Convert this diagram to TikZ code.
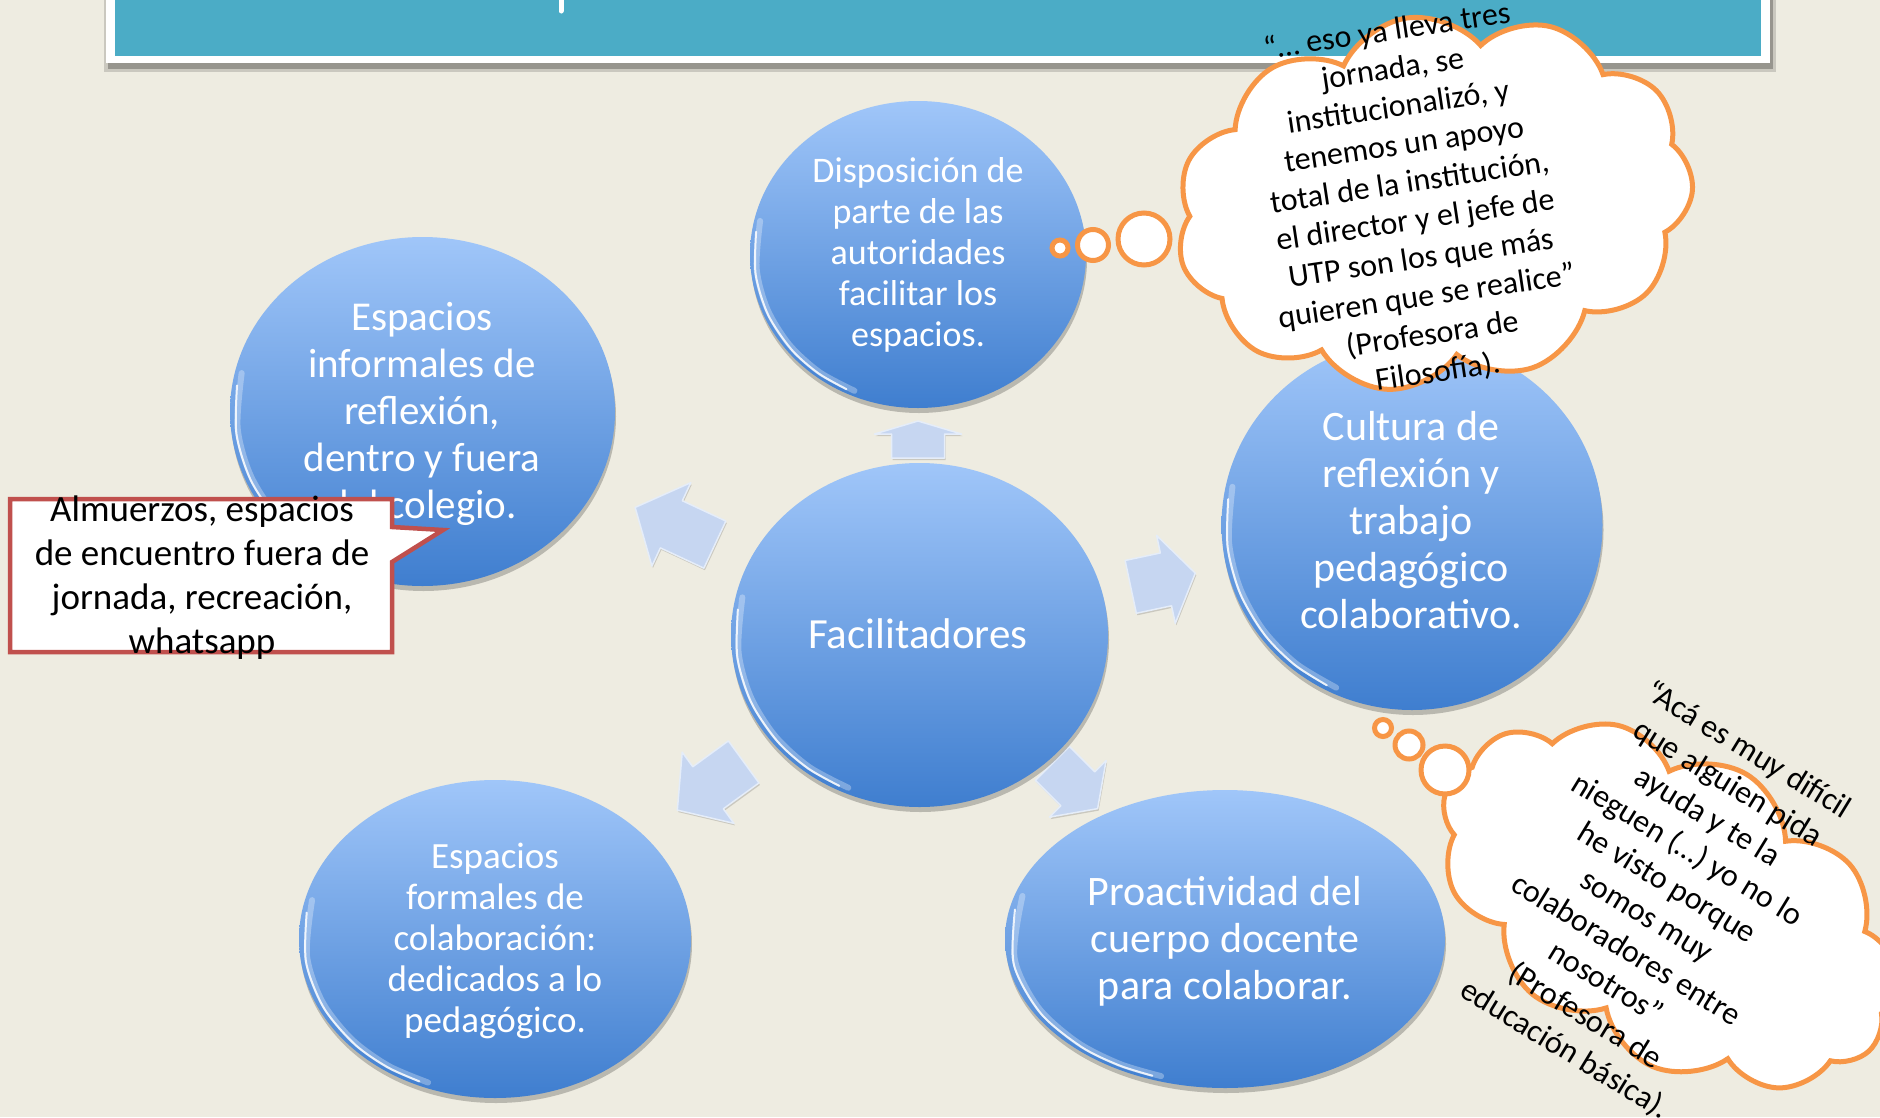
\documentclass[tikz,border=0pt]{standalone}
\usepackage{fontspec}
\setmainfont{Carlito}
\usetikzlibrary{shapes.geometric,shapes.symbols,shadows,calc}
\definecolor{bgbeige}{HTML}{EEECE1}
\definecolor{bannerteal}{HTML}{4BACC6}
\definecolor{ctop}{HTML}{A0C6F9}
\definecolor{cbot}{HTML}{3F7ECF}
\definecolor{arrowblue}{HTML}{C6D6F1}
\definecolor{orng}{HTML}{F79646}
\definecolor{redb}{HTML}{C0504D}
\newcommand\glossrim[1]{%
 \draw[white, line width=6pt, opacity=.3, line cap=round] plot[smooth] coordinates {($(#1.center)!0.965!(#1.168)$) ($(#1.center)!0.965!(#1.185)$) ($(#1.center)!0.965!(#1.200)$) ($(#1.center)!0.965!(#1.215)$) ($(#1.center)!0.965!(#1.230)$) ($(#1.center)!0.965!(#1.245)$)};
 \draw[rimline] plot[smooth] coordinates {($(#1.center)!0.975!(#1.172)$) ($(#1.center)!0.975!(#1.187)$) ($(#1.center)!0.975!(#1.202)$) ($(#1.center)!0.975!(#1.217)$) ($(#1.center)!0.975!(#1.230)$) ($(#1.center)!0.975!(#1.242)$)};
}
\tikzset{pics/barrow/.style n args={4}{code={%
 \path[arrowfill] (-#1/2,-#4) -- ({#1/2-#2},-#4) -- ({#1/2-#2},-#3) -- (#1/2,0) -- ({#1/2-#2},#3) -- ({#1/2-#2},#4) -- (-#1/2,#4) -- cycle;}}}
\begin{document}
\begin{tikzpicture}[x=1pt,y=-1pt,
  bubble/.style={ellipse, top color=ctop, bottom color=cbot, inner sep=0pt, outer sep=0pt,
    drop shadow={shadow xshift=1pt, shadow yshift=-5pt, opacity=.22, fill=black}},
  bubtext/.style={text=white, align=center, inner sep=0pt},
  arrowfill/.style={fill=arrowblue, draw=white!55!arrowblue, line width=1.5pt, line join=round,
    drop shadow={shadow xshift=1pt, shadow yshift=-2pt, opacity=.15, fill=black}},
  thought/.style={draw=orng, line width=5pt, fill=white},
  bubcirc/.style={thought, circle, inner sep=0pt, outer sep=0pt},
  quote/.style={text=black, align=center, inner sep=0pt},
  rimline/.style={white, line width=2pt, opacity=.85, line cap=round},
  callout/.style={draw=redb, line width=4.5pt, fill=white, line join=miter},
  calltext/.style={text=black, align=center, inner sep=0pt, font=\fontsize{37}{44}\selectfont},
]
\useasboundingbox (0,0) rectangle (1880,1117);
\fill[bgbeige] (0,0) rectangle (1880,1117);
% banner
\fill[black, opacity=.25] (108,-10) rectangle (1773,69);
\fill[black, opacity=.15] (104,-10) rectangle (1776,72);
\fill[white] (106,-10) rectangle (1770,63);
\fill[bannerteal] (115,-10) rectangle (1761,56);
\draw[white, line width=5pt, line cap=round] (561,-5) -- (561,11);
% block arrows
\pic[rotate=90] at (918,439.5) {barrow={37}{13}{43.5}{26.5}};
\pic[rotate=155] at (675,526) {barrow={88}{40}{46}{26}};
\pic[rotate=12] at (1163,580) {barrow={66}{30}{45}{27}};
\pic[rotate=216] at (710.5,786) {barrow={82}{38}{44}{26}};
\pic[rotate=-45] at (1075,786) {barrow={64}{28}{40}{24}};
% circles
\node[bubble, minimum width=336pt, minimum height=307pt] (topc) at (918,254.5) {};
\node[bubble, minimum width=385pt, minimum height=349pt] (leftc) at (422.5,411.5) {};
\node[bubble, minimum width=377pt, minimum height=344pt] (ctrc) at (919.5,635) {};
\node[bubble, minimum width=381pt, minimum height=370pt] (rightc) at (1412,525) {};
\node[bubble, minimum width=392pt, minimum height=318pt] (blc) at (495,939) {};
\node[bubble, minimum width=440pt, minimum height=298pt] (brc) at (1225,939) {};
\glossrim{topc}\glossrim{leftc}\glossrim{ctrc}\glossrim{rightc}\glossrim{blc}\glossrim{brc}
\node[bubtext, font=\fontsize{36}{41}\selectfont] (topt) at (918,255) {Disposición de\\parte de las\\autoridades\\facilitar los\\espacios.};
\node[bubtext, font=\fontsize{41}{47}\selectfont] (leftt) at (422,414) {Espacios\\informales de\\reflexión,\\dentro y fuera\\del colegio.};
\node[bubtext, font=\fontsize{43}{50}\selectfont] (ctrt) at (918,634) {Facilitadores};
\node[bubtext, font=\fontsize{42}{47}\selectfont] (rightt) at (1411,520) {Cultura de\\reflexión y\\trabajo\\pedagógico\\colaborativo.};
\node[bubtext, font=\fontsize{37}{41}\selectfont] (blt) at (495,941) {Espacios\\formales de\\colaboración:\\dedicados a lo\\pedagógico.};
\node[bubtext, font=\fontsize{42}{47}\selectfont] (brt) at (1225,941) {Proactividad del\\cuerpo docente\\para colaborar.};
% callout
\draw[callout] (10,499) -- (392,499) -- (392,527) -- (443,530) -- (392,562) -- (392,652) -- (10,652) -- cycle;
\node[calltext] (callt) at (202,578) {Almuerzos, espacios\\de encuentro fuera de\\jornada, recreación,\\whatsapp};
% cloud 1
\node[thought, cloud, cloud puffs=11, cloud puff arc=115, aspect=1.4, minimum width=520pt, minimum height=372pt, rotate=8.5] (cloudA) at (1434,202) {};
\node[bubcirc, minimum size=52pt] (a3) at (1144,239) {};
\node[bubcirc, minimum size=31pt] (a2) at (1093,245) {};
\node[bubcirc, minimum size=16pt] (a1) at (1060,248) {};
\node[quote, font=\fontsize{32}{38.3}\selectfont, rotate=8.5] (qA) at (1412.5,202) {“… eso ya lleva tres\\jornada, se\\institucionalizó, y\\tenemos un apoyo\\total de la institución,\\el director y el jefe de\\UTP son los que más\\quieren que se realice”\\(Profesora de\\Filosofía).};
% cloud 2
\node[thought, cloud, cloud puffs=11, cloud puff arc=115, aspect=1.6, minimum width=500pt, minimum height=305pt, rotate=-31] (cloudB) at (1668,905) {};
\node[bubcirc, minimum size=48pt] (b3) at (1445,770) {};
\node[bubcirc, minimum size=28pt] (b2) at (1409,745) {};
\node[bubcirc, minimum size=17pt] (b1) at (1383,728) {};
\node[quote, font=\fontsize{32}{39}\selectfont, rotate=-31.5] (qB) at (1656.5,900) {“Acá es muy difícil\\que alguien pida\\ayuda y te la\\nieguen (…) yo no lo\\he visto porque\\somos muy\\colaboradores entre\\nosotros”\\(Profesora de\\educación básica).};
\end{tikzpicture}
\end{document}
